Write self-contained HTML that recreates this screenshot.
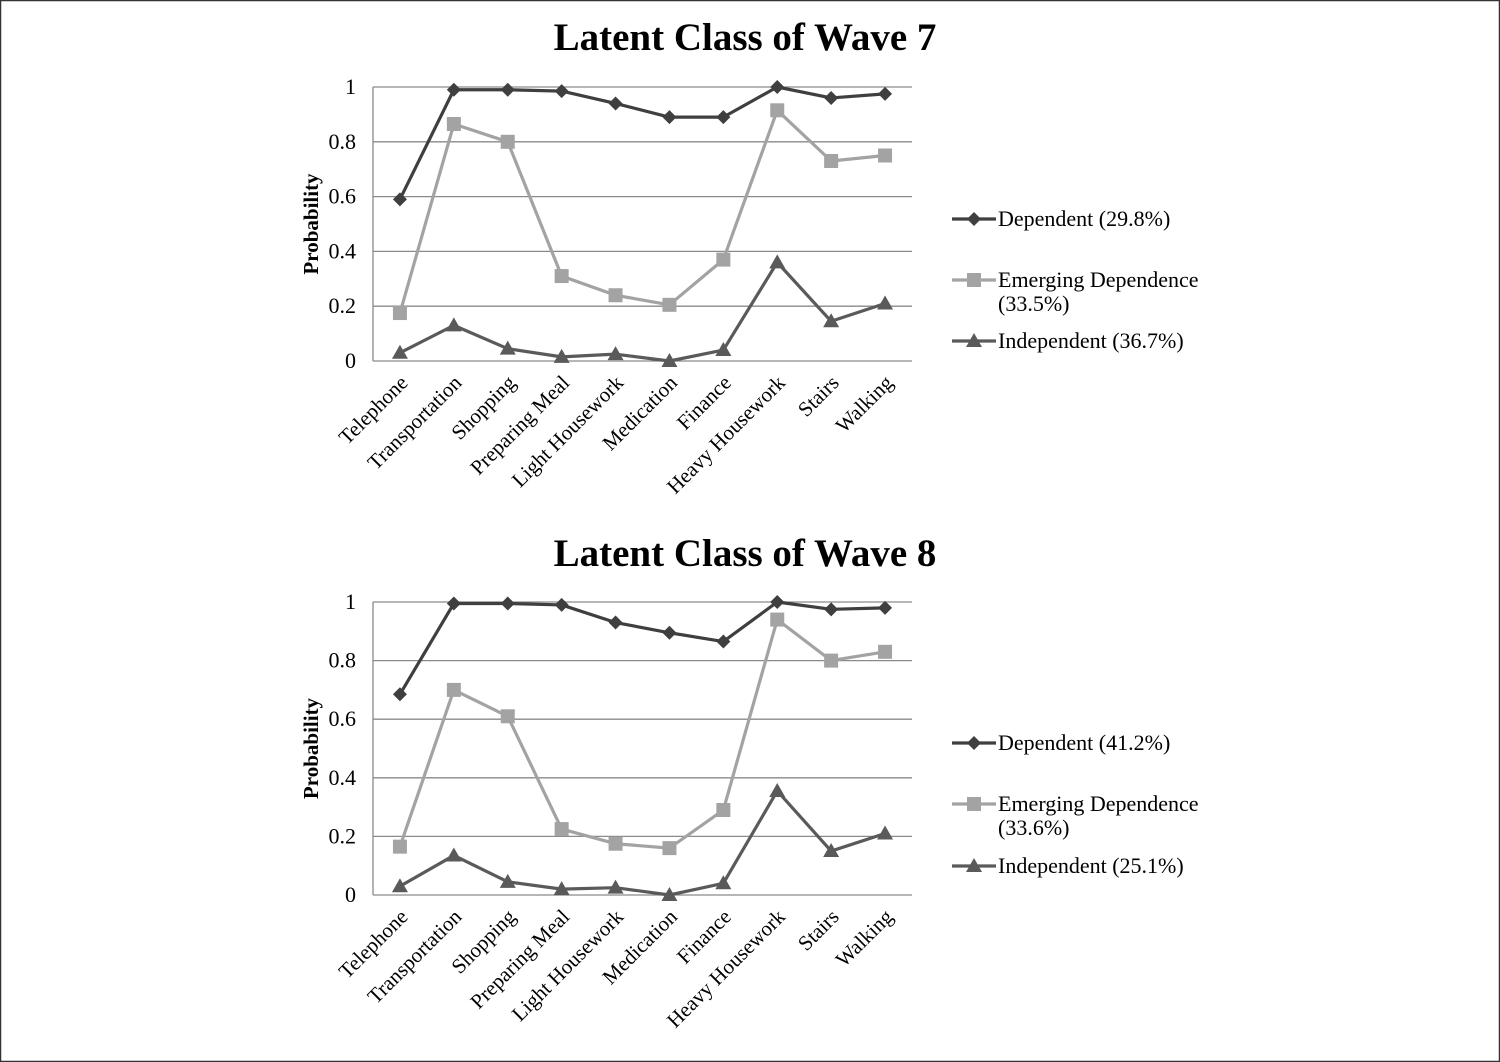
<!DOCTYPE html>
<html><head><meta charset="utf-8"><style>
html,body{margin:0;padding:0;background:#fff;}
svg{display:block;}
text{font-family:"Liberation Serif",serif;fill:#000;}
</style></head><body>
<svg id="root" width="1500" height="1062" viewBox="0 0 1500 1062">
<rect x="0.5" y="0.5" width="1499" height="1061" fill="#fff" stroke="#333" stroke-width="1.5"/>
</svg>
<script>
const categories=["Telephone","Transportation","Shopping","Preparing Meal","Light Housework","Medication","Finance","Heavy Housework","Stairs","Walking"];
const yTicks=[0,0.2,0.4,0.6,0.8,1];
const yTickLabels=["0","0.2","0.4","0.6","0.8","1"];
const w7Dependent=[0.59,0.99,0.99,0.985,0.94,0.89,0.89,1.0,0.96,0.975];
const w7Emerging=[0.175,0.865,0.80,0.31,0.24,0.205,0.37,0.915,0.73,0.75];
const w7Independent=[0.03,0.13,0.045,0.015,0.025,0.0,0.04,0.36,0.145,0.21];
const w8Dependent=[0.685,0.995,0.995,0.99,0.93,0.895,0.865,1.0,0.975,0.98];
const w8Emerging=[0.165,0.70,0.61,0.225,0.175,0.16,0.29,0.94,0.80,0.83];
const w8Independent=[0.03,0.135,0.045,0.02,0.025,0.0,0.04,0.355,0.15,0.21];
const w7Legend=["Dependent (29.8%)","Emerging Dependence|(33.5%)","Independent (36.7%)"];
const w8Legend=["Dependent (41.2%)","Emerging Dependence|(33.6%)","Independent (25.1%)"];

const NS="http://www.w3.org/2000/svg";
const root=document.getElementById('root');
function mk(tag,attrs,parent,txt){const e=document.createElementNS(NS,tag);for(const k in attrs)e.setAttribute(k,attrs[k]);if(txt!==undefined)e.textContent=txt;(parent||root).appendChild(e);return e;}
const colors=["#3f3f3f","#a3a3a3","#5a5a5a"];
const markerNames=["diamond","square","triangle"];
function marker(g,type,x,y,c){
  let m;
  if(type==="diamond")m=mk('polygon',{points:`${x},${y-7} ${x+7},${y} ${x},${y+7} ${x-7},${y}`,fill:c},g);
  else if(type==="square")m=mk('rect',{x:x-7,y:y-7,width:14,height:14,fill:c},g);
  else m=mk('polygon',{points:`${x},${y-8} ${x+8},${y+6} ${x-8},${y+6}`,fill:c},g);
  return m;
}
function chart(opt){
  const g=mk('g',{});
  
  
  const L=373,R=912,T=opt.top,B=opt.bottom;
  const xs=i=>L+(R-L)/categories.length*(i+0.5);
  const ys=v=>B-(B-T)*v;
  const t=mk('text',{x:745,y:opt.titleY,'text-anchor':'middle','font-size':39,'font-weight':'bold'},g,opt.title);
  
  yTicks.forEach((v,i)=>{
    const l=mk('line',{x1:L,x2:R,y1:ys(v),y2:ys(v),stroke:'#8a8a8a','stroke-width':1.3},g);
    
    const tx=mk('text',{x:356,y:ys(v)+7,'text-anchor':'end','font-size':22},g,yTickLabels[i]);
    
  });
  const ax=mk('line',{x1:L,x2:L,y1:T,y2:B,stroke:'#8a8a8a','stroke-width':1.3},g);
  
  const yt=mk('text',{x:0,y:0,'text-anchor':'middle','font-size':21,'font-weight':'bold',transform:`translate(318,${(T+B)/2}) rotate(-90)`},g,'Probability');
  
  categories.forEach((c,i)=>{
    const tx=mk('text',{x:0,y:0,'text-anchor':'end','font-size':21,transform:`translate(${xs(i)+9},${B+23}) rotate(-45)`},g,c);
    
  });
  opt.series.forEach((s,si)=>{
    const sg=mk('g',{},g);
    
    const p=mk('polyline',{points:s.map((v,i)=>xs(i)+','+ys(v)).join(' '),fill:'none',stroke:colors[si],'stroke-width':3.2,'stroke-linejoin':'round'},sg);
    
    s.forEach((v,i)=>{const m=marker(sg,markerNames[si],xs(i),ys(v),colors[si]);
      });
  });
  const lg=mk('g',{},g);
  
  opt.legend.forEach((lab,i)=>{
    const y=opt.legY[i];
    const e=mk('g',{},lg);
    
    mk('line',{x1:952,x2:996,y1:y,y2:y,stroke:colors[i],'stroke-width':3.2},e);
    marker(e,markerNames[i],974,y,colors[i]);
    const parts=lab.split('|');
    parts.forEach((p,j)=>mk('text',{x:998,y:y+7+j*24,'font-size':22},e,p));
  });
}
chart({name:'wave7-chart',title:'Latent Class of Wave 7',titleY:50,top:87,bottom:361,series:[w7Dependent,w7Emerging,w7Independent],legend:w7Legend,legY:[219,280,341]});
chart({name:'wave8-chart',title:'Latent Class of Wave 8',titleY:566,top:602,bottom:895,series:[w8Dependent,w8Emerging,w8Independent],legend:w8Legend,legY:[743,804,866]});
</script>
</body></html>
